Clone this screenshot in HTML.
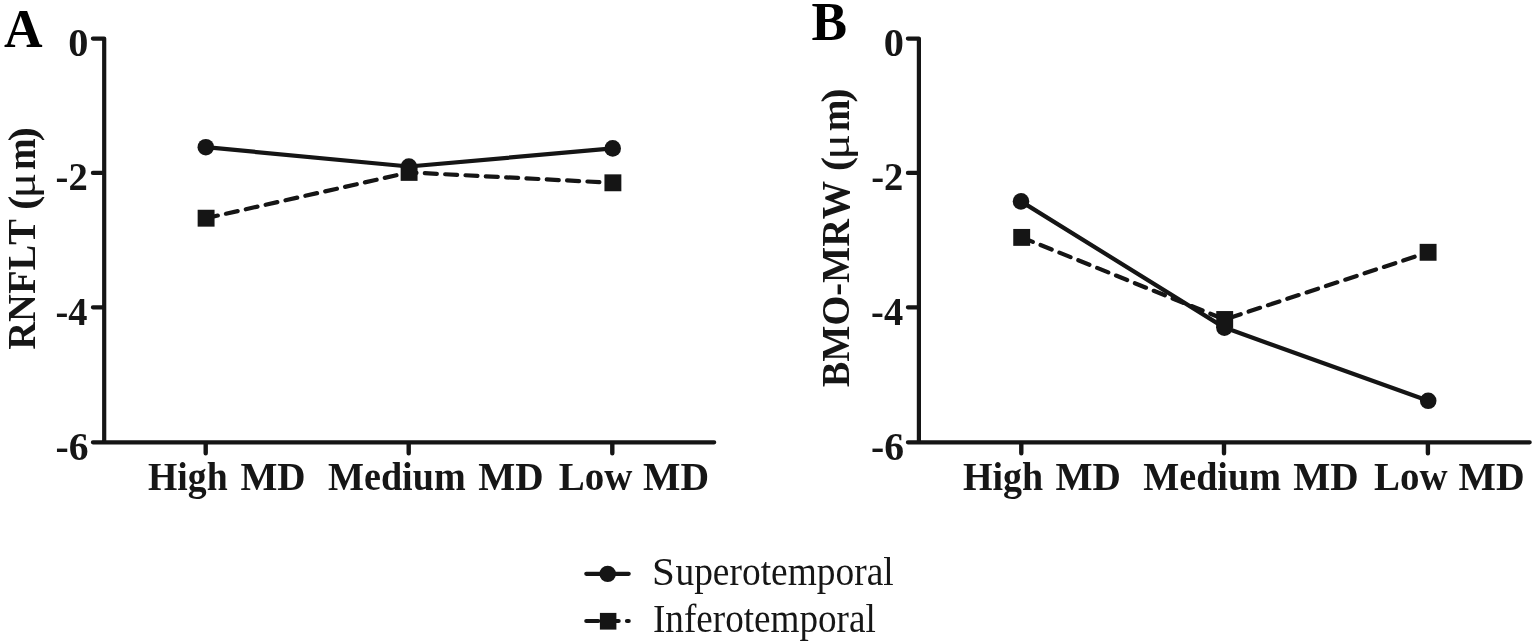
<!DOCTYPE html>
<html>
<head>
<meta charset="utf-8">
<title>RNFLT and BMO-MRW by MD group</title>
<style>
html,body{margin:0;padding:0;background:#fff;}
body{width:1533px;height:642px;overflow:hidden;}
svg{display:block;}
.ax{fill:none;stroke:#151515;stroke-width:4.2;stroke-linecap:round;stroke-linejoin:round;}
.ln{fill:none;stroke:#151515;stroke-width:4.2;stroke-linecap:round;stroke-linejoin:round;}
.ds{fill:none;stroke:#151515;stroke-width:4.2;stroke-linecap:round;stroke-linejoin:round;stroke-dasharray:12 8.35;}
.mk{fill:#151515;stroke:none;}
text{font-family:"Liberation Serif",serif;fill:#161616;font-kerning:none;white-space:pre;}
</style>
</head>
<body>
<svg width="1533" height="642" viewBox="0 0 1533 642">
<rect x="0" y="0" width="1533" height="642" fill="#ffffff"/>
<g id="panelA">
<path class="ax" d="M92.9 38.6 H104.2 V442.35 M92.9 442.35 H714.2"/>
<path class="ax" d="M92.9 172.9 H103.2 M92.9 307.3 H103.2"/>
<path class="ax" style="stroke-width:4.4" d="M205.7 443.35 V453.3 M408.7 443.35 V453.3 M612.3 443.35 V453.3"/>
<text transform="translate(3.88 46.70) scale(0.9709 1)" style="font-size:55px;font-weight:bold;fill:#000;">A</text>
<text transform="translate(68.16 56.00) scale(1.0214 1)" style="font-size:39.5px;font-weight:bold;">0</text>
<text transform="translate(55.59 190.20) scale(0.9778 1)" style="font-size:39.5px;font-weight:bold;">-2</text>
<text transform="translate(55.49 324.50) scale(0.9732 1)" style="font-size:39.5px;font-weight:bold;">-4</text>
<text transform="translate(55.45 459.60) scale(1.0033 1)" style="font-size:39.5px;font-weight:bold;">-6</text>
<text transform="translate(0 489.90)" style="font-size:39.5px;font-weight:bold;"><tspan x="148.01" dy="0.00" textLength="79.61" lengthAdjust="spacingAndGlyphs" style="font-weight:bold">High</tspan> <tspan x="240.43" dy="0.00" textLength="65.18" lengthAdjust="spacingAndGlyphs" style="font-weight:bold">MD</tspan></text>
<text transform="translate(0 489.90)" style="font-size:39.5px;font-weight:bold;"><tspan x="328.00" dy="0.00" textLength="137.69" lengthAdjust="spacingAndGlyphs" style="font-weight:bold">Medium</tspan> <tspan x="478.18" dy="0.00" textLength="65.34" lengthAdjust="spacingAndGlyphs" style="font-weight:bold">MD</tspan></text>
<text transform="translate(0 489.90)" style="font-size:39.5px;font-weight:bold;"><tspan x="558.73" dy="0.00" textLength="73.57" lengthAdjust="spacingAndGlyphs" style="font-weight:bold">Low</tspan> <tspan x="643.12" dy="0.00" textLength="66.01" lengthAdjust="spacingAndGlyphs" style="font-weight:bold">MD</tspan></text>
<text transform="translate(35.30 400.00) rotate(-90)" style="font-size:39.5px;font-weight:bold;"><tspan x="50.24" dy="0.00" textLength="130.64" lengthAdjust="spacingAndGlyphs" style="font-weight:bold">RNFLT</tspan> <tspan x="190.08" dy="0.60" textLength="14.52" lengthAdjust="spacingAndGlyphs" style="font-weight:bold">(</tspan><tspan x="201.76" dy="-0.60" textLength="25.38" lengthAdjust="spacingAndGlyphs" style="font-weight:normal">μ</tspan><tspan x="229.88" dy="0.00" textLength="31.57" lengthAdjust="spacingAndGlyphs" style="font-weight:bold">m</tspan><tspan x="258.49" dy="0.60" textLength="14.52" lengthAdjust="spacingAndGlyphs" style="font-weight:bold">)</tspan></text>
<polyline class="ln" points="205.8,147.2 408.9,166.5 612.7,148.4"/>
<circle class="mk" cx="205.8" cy="147.2" r="8.3"/>
<circle class="mk" cx="408.9" cy="166.5" r="8.3"/>
<circle class="mk" cx="612.7" cy="148.4" r="8.3"/>
<polyline class="ds" points="206.1,218.2 409.1,172.4 612.9,182.8"/>
<rect class="mk" x="197.65" y="209.75" width="16.9" height="16.9"/>
<rect class="mk" x="400.65" y="163.95" width="16.9" height="16.9"/>
<rect class="mk" x="604.45" y="174.35" width="16.9" height="16.9"/>
</g>
<g id="panelB">
<path class="ax" d="M907.9 38.6 H918.9 V442.35 M907.9 442.35 H1529.7"/>
<path class="ax" d="M907.9 172.9 H917.9 M907.9 307.3 H917.9"/>
<path class="ax" style="stroke-width:4.4" d="M1021.3 443.35 V453.3 M1224.0 443.35 V453.3 M1427.9 443.35 V453.3"/>
<text transform="translate(811.41 39.50) scale(0.9696 1)" style="font-size:55px;font-weight:bold;fill:#000;">B</text>
<text transform="translate(883.76 56.00) scale(1.0214 1)" style="font-size:39.5px;font-weight:bold;">0</text>
<text transform="translate(871.19 190.20) scale(0.9778 1)" style="font-size:39.5px;font-weight:bold;">-2</text>
<text transform="translate(871.09 324.50) scale(0.9732 1)" style="font-size:39.5px;font-weight:bold;">-4</text>
<text transform="translate(871.05 459.60) scale(1.0033 1)" style="font-size:39.5px;font-weight:bold;">-6</text>
<text transform="translate(0 489.90)" style="font-size:39.5px;font-weight:bold;"><tspan x="963.00" dy="0.00" textLength="80.17" lengthAdjust="spacingAndGlyphs" style="font-weight:bold">High</tspan> <tspan x="1055.43" dy="0.00" textLength="65.39" lengthAdjust="spacingAndGlyphs" style="font-weight:bold">MD</tspan></text>
<text transform="translate(0 489.90)" style="font-size:39.5px;font-weight:bold;"><tspan x="1143.22" dy="0.00" textLength="137.69" lengthAdjust="spacingAndGlyphs" style="font-weight:bold">Medium</tspan> <tspan x="1293.13" dy="0.00" textLength="65.39" lengthAdjust="spacingAndGlyphs" style="font-weight:bold">MD</tspan></text>
<text transform="translate(0 489.90)" style="font-size:39.5px;font-weight:bold;"><tspan x="1373.97" dy="0.00" textLength="73.53" lengthAdjust="spacingAndGlyphs" style="font-weight:bold">Low</tspan> <tspan x="1458.57" dy="0.00" textLength="66.06" lengthAdjust="spacingAndGlyphs" style="font-weight:bold">MD</tspan></text>
<text transform="translate(848.60 400.00) rotate(-90)" style="font-size:39.5px;font-weight:bold;"><tspan x="12.66" dy="0.00" textLength="206.54" lengthAdjust="spacingAndGlyphs" style="font-weight:bold">BMO-MRW</tspan> <tspan x="228.83" dy="0.60" textLength="14.52" lengthAdjust="spacingAndGlyphs" style="font-weight:bold">(</tspan><tspan x="240.51" dy="-0.60" textLength="25.38" lengthAdjust="spacingAndGlyphs" style="font-weight:normal">μ</tspan><tspan x="268.63" dy="0.00" textLength="31.57" lengthAdjust="spacingAndGlyphs" style="font-weight:bold">m</tspan><tspan x="297.24" dy="0.60" textLength="14.52" lengthAdjust="spacingAndGlyphs" style="font-weight:bold">)</tspan></text>
<polyline class="ln" points="1021.0,201.4 1224.4,327.6 1428.2,400.8"/>
<circle class="mk" cx="1021.0" cy="201.4" r="8.3"/>
<circle class="mk" cx="1224.4" cy="327.6" r="8.3"/>
<circle class="mk" cx="1428.2" cy="400.8" r="8.3"/>
<polyline class="ds" points="1021.7,237.4 1224.7,319.5 1428.1,252.3"/>
<rect class="mk" x="1013.25" y="228.95" width="16.9" height="16.9"/>
<rect class="mk" x="1216.25" y="311.05" width="16.9" height="16.9"/>
<rect class="mk" x="1419.65" y="243.85" width="16.9" height="16.9"/>
</g>
<g id="legend">
<path class="ln" d="M586.3 573.8 H628.7"/>
<circle class="mk" cx="607.7" cy="573.9" r="8.2"/>
<path class="ds" d="M586.3 621 H628.7"/>
<rect class="mk" x="599.9" y="612.9" width="16.5" height="16.7"/>
<text transform="translate(0 585.20)" style="font-size:40.3px;font-weight:normal;"><tspan x="652.10" dy="0.00" textLength="22.85" lengthAdjust="spacingAndGlyphs" style="font-weight:normal">S</tspan><tspan x="675.41" dy="0.00" textLength="218.34" lengthAdjust="spacingAndGlyphs" style="font-weight:normal">uperotemporal</tspan></text>
<text transform="translate(652.96 631.50) scale(0.9222 1)" style="font-size:40.3px;font-weight:normal;">Inferotemporal</text>
</g>
</svg>
</body>
</html>
